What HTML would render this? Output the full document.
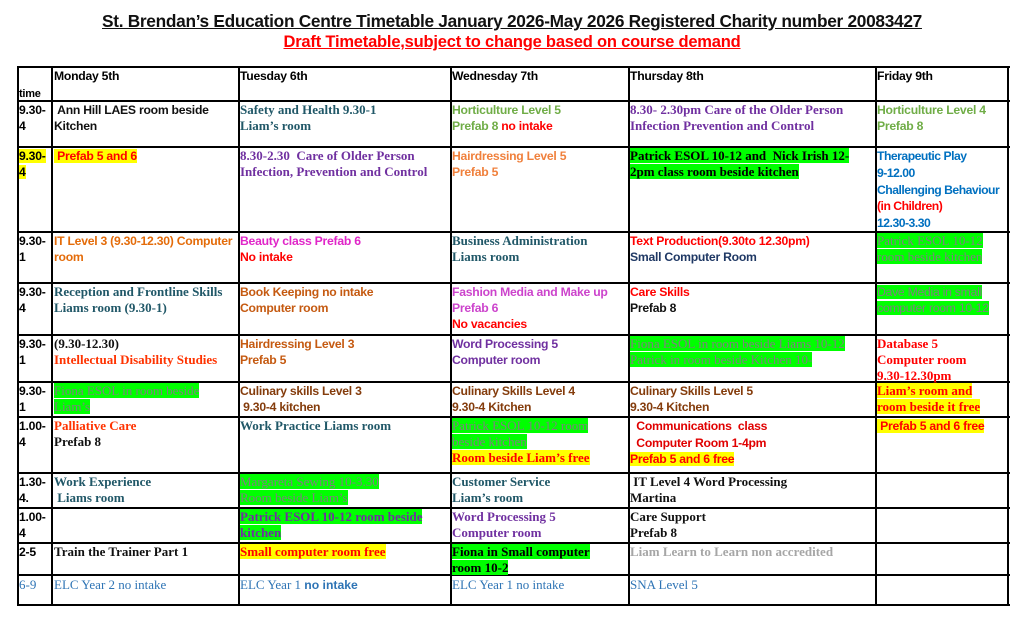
<!DOCTYPE html>
<html><head><meta charset="utf-8">
<style>
body{margin:0;width:1024px;height:618px;background:#fff;position:relative;overflow:hidden;font-family:"Liberation Sans",sans-serif}
.t{position:absolute;left:0;width:1024px;text-align:center;font-weight:bold;text-decoration:underline;white-space:nowrap}
.h{position:absolute;background:#000;height:2px}
.v{position:absolute;background:#000;width:2px;top:67px;height:539px}
.c{position:absolute;font-size:12.2px;letter-spacing:-0.25px;line-height:16px;font-weight:bold;white-space:nowrap}
.s{font-family:"Liberation Serif",serif;font-size:13px;letter-spacing:0}
.n{font-weight:normal}
.g{background:#00ff00}
.y{background:#ffff00}
</style></head><body>
<div class="t" style="top:11px;font-size:17.3px;color:#111;letter-spacing:-0.3px">St. Brendan’s Education Centre Timetable January 2026-May 2026 Registered Charity number 20083427</div>
<div class="t" style="top:33px;font-size:16.5px;color:#ff0000;letter-spacing:-0.2px">Draft Timetable,subject to change based on course demand</div>

<div class="h" style="left:17px;width:993px;top:66px"></div>
<div class="h" style="left:17px;width:993px;top:100px"></div>
<div class="h" style="left:17px;width:993px;top:146px"></div>
<div class="h" style="left:17px;width:993px;top:231px"></div>
<div class="h" style="left:17px;width:993px;top:282px"></div>
<div class="h" style="left:17px;width:993px;top:334px"></div>
<div class="h" style="left:17px;width:993px;top:381px"></div>
<div class="h" style="left:17px;width:993px;top:416px"></div>
<div class="h" style="left:17px;width:993px;top:472px"></div>
<div class="h" style="left:17px;width:993px;top:507px"></div>
<div class="h" style="left:17px;width:993px;top:542px"></div>
<div class="h" style="left:17px;width:993px;top:574px"></div>
<div class="h" style="left:17px;width:993px;top:604px"></div>
<div class="v" style="left:17px"></div>
<div class="v" style="left:51px"></div>
<div class="v" style="left:238px"></div>
<div class="v" style="left:450px"></div>
<div class="v" style="left:628px"></div>
<div class="v" style="left:875px"></div>
<div class="v" style="left:1007px"></div>

<div class="c" style="left:19px;top:86px;font-size:11px">time</div>
<div class="c" style="left:54px;top:68px">Monday 5th</div>
<div class="c" style="left:240px;top:68px">Tuesday 6th</div>
<div class="c" style="left:452px;top:68px">Wednesday 7th</div>
<div class="c" style="left:630px;top:68px">Thursday 8th</div>
<div class="c" style="left:877px;top:68px">Friday 9th</div>

<div class="c" style="left:19px;top:102px">9.30-<br>4</div>
<div class="c" style="left:19px;top:148px"><span class="y">9.30-</span><br><span class="y">4</span></div>
<div class="c" style="left:19px;top:233px">9.30-<br>1</div>
<div class="c" style="left:19px;top:284px">9.30-<br>4</div>
<div class="c" style="left:19px;top:336px">9.30-<br>1</div>
<div class="c" style="left:19px;top:383px">9.30-<br>1</div>
<div class="c" style="left:19px;top:418px">1.00-<br>4</div>
<div class="c" style="left:19px;top:474px">1.30-<br>4.</div>
<div class="c" style="left:19px;top:509px">1.00-<br>4</div>
<div class="c" style="left:19px;top:544px">2-5</div>
<div class="c s n" style="left:19px;top:577px;color:#2e74b5">6-9</div>

<div class="c" style="left:54px;top:102px;color:#111">&nbsp;Ann Hill LAES room beside<br>Kitchen</div>
<div class="c s" style="left:240px;top:102px;color:#215868">Safety and Health 9.30-1<br>Liam’s room</div>
<div class="c" style="left:452px;top:102px;color:#70ad47">Horticulture Level 5<br>Prefab 8 <span style="color:#ff0000">no intake</span></div>
<div class="c s" style="left:630px;top:102px;color:#7030a0">8.30- 2.30pm Care of the Older Person<br>Infection Prevention and Control</div>
<div class="c" style="left:877px;top:102px;color:#70ad47">Horticulture Level 4<br>Prefab 8</div>

<div class="c" style="left:54px;top:148px;color:#ff0000"><span class="y">&nbsp;Prefab 5 and 6</span></div>
<div class="c s" style="left:240px;top:148px;color:#7030a0">8.30-2.30&nbsp; Care of Older Person<br>Infection, Prevention and Control</div>
<div class="c" style="left:452px;top:148px;color:#f0803c">Hairdressing Level 5<br>Prefab 5</div>
<div class="c s" style="left:630px;top:148px;color:#000"><span class="g">Patrick ESOL 10-12 and&nbsp; Nick Irish 12-</span><br><span class="g">2pm class room beside kitchen</span></div>
<div class="c" style="left:877px;top:148px;color:#0070c0;line-height:16.8px;letter-spacing:-0.5px">Therapeutic Play<br>9-12.00<br>Challenging Behaviour<br><span style="color:#ff0000">(in Children)</span><br>12.30-3.30</div>

<div class="c" style="left:54px;top:233px;color:#e46c0a">IT Level 3 (9.30-12.30) Computer<br>room</div>
<div class="c" style="left:240px;top:233px;color:#e026c8">Beauty class Prefab 6<br><span style="color:#ff0000">No intake</span></div>
<div class="c s" style="left:452px;top:233px;color:#215868">Business Administration<br>Liams room</div>
<div class="c" style="left:630px;top:233px;color:#ff0000">Text Production(9.30to 12.30pm)<br><span style="color:#1f3864">Small Computer Room</span></div>
<div class="c s n" style="left:877px;top:233px;color:#7f7f7f"><span class="g">Patrick ESOL 10-12</span><br><span class="g">room beside kitchen</span></div>

<div class="c s" style="left:54px;top:284px;color:#215868">Reception and Frontline Skills<br>Liams room (9.30-1)</div>
<div class="c" style="left:240px;top:284px;color:#c55a11">Book Keeping no intake<br>Computer room</div>
<div class="c" style="left:452px;top:284px;color:#cc44cc">Fashion Media and Make up<br>Prefab 6<br><span style="color:#ff0000">No vacancies</span></div>
<div class="c" style="left:630px;top:284px;color:#ff0000">Care Skills<br><span style="color:#111">Prefab 8</span></div>
<div class="c n" style="left:877px;top:284px;color:#7f7f7f"><span class="g">Dave Media in small</span><br><span class="g">computer room 10-12</span></div>

<div class="c s" style="left:54px;top:336px;color:#111">(9.30-12.30)<br><span style="color:#ff3300">Intellectual Disability Studies</span></div>
<div class="c" style="left:240px;top:336px;color:#c55a11">Hairdressing Level 3<br>Prefab 5</div>
<div class="c" style="left:452px;top:336px;color:#7030a0">Word Processing 5<br>Computer room</div>
<div class="c s n" style="left:630px;top:336px;color:#7f7f7f"><span class="g">Fiona ESOL in room beside Liams 10-12</span><br><span class="g">Patrick in room beside Kitchen 10-</span></div>
<div class="c s" style="left:877px;top:336px;color:#ff0000">Database 5<br>Computer room<br>9.30-12.30pm</div>

<div class="c s n" style="left:54px;top:383px;color:#7f7f7f"><span class="g">Fiona ESOL in room beside</span><br><span class="g">Liam’s</span></div>
<div class="c" style="left:240px;top:383px;color:#843c0c">Culinary skills Level 3<br>&nbsp;9.30-4 kitchen</div>
<div class="c" style="left:452px;top:383px;color:#843c0c">Culinary Skills Level 4<br>9.30-4 Kitchen</div>
<div class="c" style="left:630px;top:383px;color:#843c0c">Culinary Skills Level 5<br>9.30-4 Kitchen</div>
<div class="c s" style="left:877px;top:383px;color:#ff0000"><span class="y">Liam’s room and</span><br><span class="y">room beside it free</span></div>

<div class="c s" style="left:54px;top:418px;color:#ff3300">Palliative Care<br><span style="color:#111">Prefab 8</span></div>
<div class="c s" style="left:240px;top:418px;color:#215868">Work Practice Liams room</div>
<div class="c s n" style="left:452px;top:418px;color:#7f7f7f"><span class="g">Patrick ESOL 10-12 room</span><br><span class="g">beside kitchen</span><br><b class="y" style="color:#ff0000">Room beside Liam’s free</b></div>
<div class="c" style="left:630px;top:418px;color:#e00000;line-height:16.5px">&nbsp;&nbsp;Communications&nbsp; class<br>&nbsp;&nbsp;Computer Room 1-4pm<br><span class="y" style="color:#ff0000">Prefab 5 and 6 free</span></div>
<div class="c" style="left:877px;top:418px;color:#ff0000"><span class="y">&nbsp;Prefab 5 and 6 free</span></div>

<div class="c s" style="left:54px;top:474px;color:#215868">Work Experience<br>&nbsp;Liams room</div>
<div class="c s n" style="left:240px;top:474px;color:#7f7f7f"><span class="g">Margareta Sewing 10-3.30</span><br><span class="g">Room beside Liam’s</span></div>
<div class="c s" style="left:452px;top:474px;color:#215868">Customer Service<br>Liam’s room</div>
<div class="c s" style="left:630px;top:474px;color:#111">&nbsp;IT Level 4 Word Processing<br>Martina</div>

<div class="c s" style="left:240px;top:509px;color:#7030a0"><span class="g">Patrick ESOL 10-12 room beside</span><br><span class="g">kitchen</span></div>
<div class="c s" style="left:452px;top:509px;color:#7030a0">Word Processing 5<br>Computer room</div>
<div class="c s" style="left:630px;top:509px;color:#111">Care Support<br>Prefab 8</div>

<div class="c s" style="left:54px;top:544px;color:#111">Train the Trainer Part 1</div>
<div class="c s" style="left:240px;top:544px;color:#ff0000"><span class="y">Small computer room free</span></div>
<div class="c s" style="left:452px;top:544px;color:#000"><span class="g">Fiona in Small computer</span><br><span class="g">room 10-2</span></div>
<div class="c s" style="left:630px;top:544px;color:#a6a6a6">Liam Learn to Learn non accredited</div>

<div class="c s n" style="left:54px;top:577px;color:#2e74b5">ELC Year 2 no intake</div>
<div class="c s n" style="left:240px;top:577px;color:#2e74b5">ELC Year 1 <b style="font-family:'Liberation Sans',sans-serif;font-size:12.2px">no intake</b></div>
<div class="c s n" style="left:452px;top:577px;color:#2e74b5">ELC Year 1 no intake</div>
<div class="c s n" style="left:630px;top:577px;color:#2e74b5">SNA Level 5</div>
</body></html>
